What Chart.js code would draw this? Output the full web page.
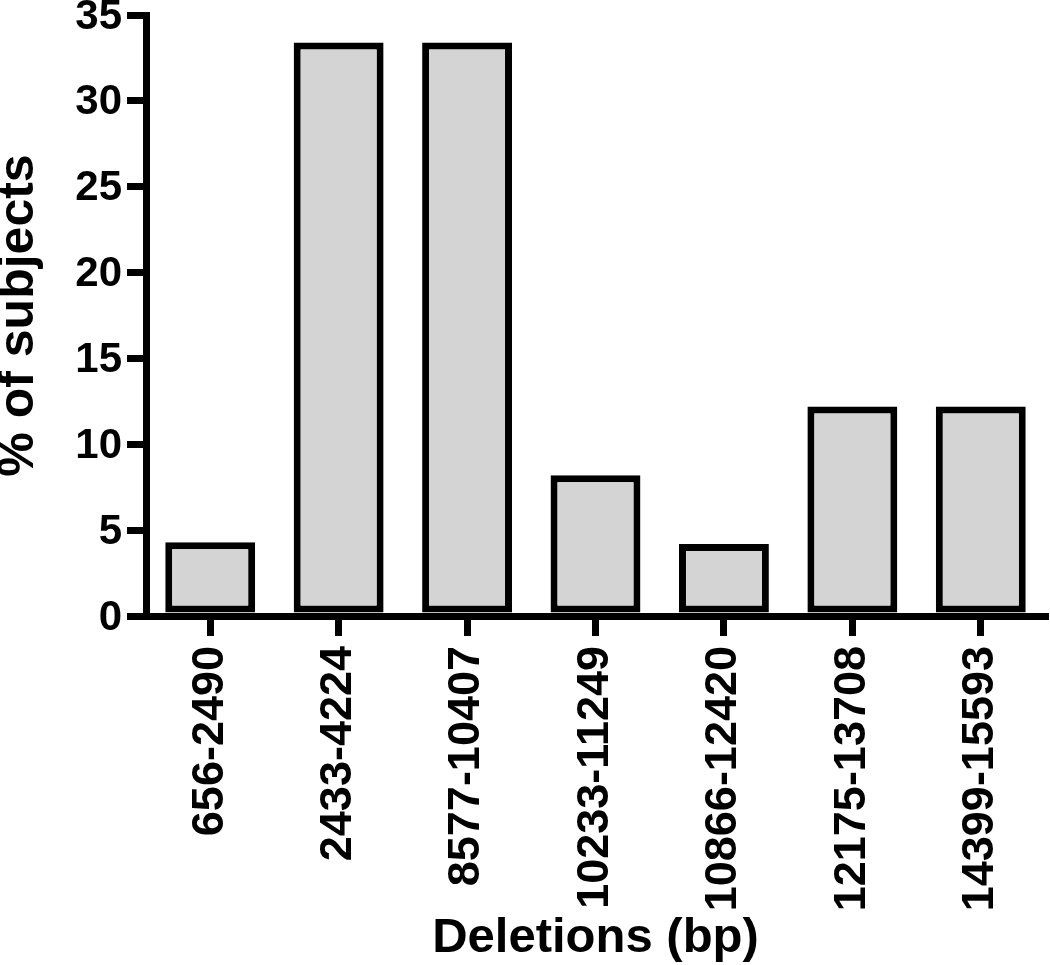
<!DOCTYPE html>
<html>
<head>
<meta charset="utf-8">
<style>
  html, body { margin: 0; padding: 0; background: #ffffff; }
  #wrap { width: 1050px; height: 965px; }
</style>
<script src="https://cdn.jsdelivr.net/npm/chart.js@4/dist/chart.umd.min.js"></script>
</head>
<body>
<div id="wrap"><canvas id="c" width="1050" height="965"></canvas></div>
<script>
const categories = ["656-2490", "2433-4224", "8577-10407", "10233-11249", "10866-12420", "12175-13708", "14399-15593"];
const percentSubjects = [4.3, 33.4, 33.4, 8.2, 4.2, 12.2, 12.2];
const yTicks = [0, 5, 10, 15, 20, 25, 30, 35];
const xTitle = "Deletions (bp)";
const yTitle = "% of subjects";

const FONT = "'Liberation Sans', Arial, Helvetica, sans-serif";

new Chart(document.getElementById('c'), {
  type: 'bar',
  data: {
    labels: categories,
    datasets: [{
      data: percentSubjects,
      backgroundColor: '#d4d4d4',
      borderColor: '#000000',
      borderWidth: 7,
      borderSkipped: false,
      categoryPercentage: 1.0,
      barPercentage: 0.7
    }]
  },
  options: {
    responsive: false,
    animation: false,
    devicePixelRatio: 1,
    layout: { padding: { top: 15, right: 5, left: 0, bottom: 0 } },
    plugins: { legend: { display: false }, tooltip: { enabled: false } },
    scales: {
      x: {
        offset: true,
        grid: { offset: false, drawOnChartArea: false, drawTicks: true, tickLength: 20, lineWidth: 7, color: '#000000' },
        border: { display: true, width: 7, color: '#000000' },
        ticks: {
          autoSkip: false, minRotation: 90, maxRotation: 90, padding: 10,
          color: '#000000',
          font: { family: FONT, size: 45, weight: 'bold', lineHeight: 1 }
        },
        title: {
          display: true, text: xTitle, color: '#000000', padding: 0,
          font: { family: FONT, size: 49, weight: 'bold', lineHeight: 1.08 }
        },
        afterFit: (s) => { s.height = 349; s.paddingLeft = 0; s.paddingRight = 0; }
      },
      y: {
        min: 0, max: 35,
        afterBuildTicks: (s) => { s.ticks = yTicks.map(v => ({ value: v })); },
        grid: { drawOnChartArea: false, drawTicks: true, tickLength: 19, lineWidth: 7, color: '#000000' },
        border: { display: true, width: 7, color: '#000000' },
        ticks: {
          padding: 5, color: '#000000', labelOffset: 2,
          font: { family: FONT, size: 42, weight: 'bold', lineHeight: 1 }
        },
        title: {
          display: true, text: yTitle, color: '#000000', padding: 0,
          font: { family: FONT, size: 50, weight: 'bold', lineHeight: 0.78 }
        },
        afterFit: (s) => { s.width = 146; s.paddingTop = 0; s.paddingBottom = 0; }
      }
    }
  }
});
</script>
</body>
</html>
